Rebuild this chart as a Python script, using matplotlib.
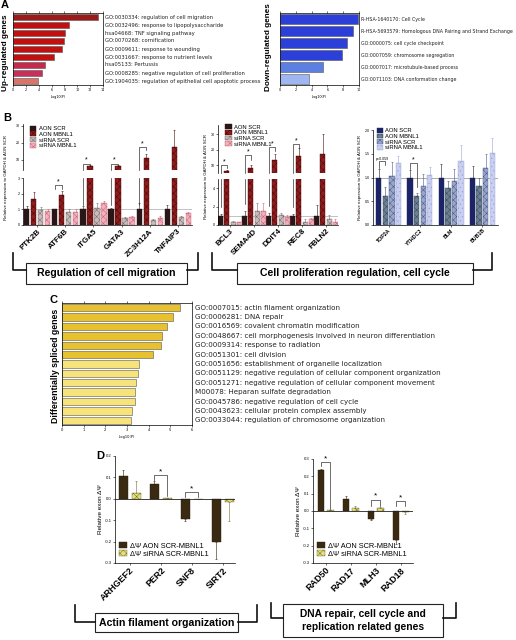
import numpy as np
import matplotlib
matplotlib.use("Agg")
import matplotlib.pyplot as plt
from matplotlib.patches import Rectangle, Patch
import matplotlib.transforms as mtrans

plt.rcParams['font.family'] = ['Liberation Sans', 'DejaVu Sans']
plt.rcParams['hatch.linewidth'] = 0.35
plt.rcParams['axes.linewidth'] = 0.5

# ---------------- data ----------------
up_terms = ["GO:0030334: regulation of cell migration",
            "GO:0032496: response to lipopolysaccharide",
            "hsa04668: TNF signaling pathway",
            "GO:0070268: cornification",
            "GO:0009611: response to wounding",
            "GO:0031667: response to nutrient levels",
            "hsa05133: Pertussis",
            "GO:0008285: negative regulation of cell proliferation",
            "GO:1904035: regulation of epithelial cell apoptotic process"]
up_vals = [13.2, 8.7, 8.1, 8.0, 7.7, 6.4, 5.0, 4.5, 3.9]

down_terms = ["R-HSA-1640170: Cell Cycle",
              "R-HSA-5693579: Homologous DNA Pairing and Strand Exchange",
              "GO:0000075: cell cycle checkpoint",
              "GO:0007059: chromosome segregation",
              "GO:0007017: microtubule-based process",
              "GO:0071103: DNA conformation change"]
down_vals = [9.9, 9.3, 8.5, 7.8, 5.5, 3.7]

spl_terms = ["GO:0007015: actin filament organization",
             "GO:0006281: DNA repair",
             "GO:0016569: covalent chromatin modification",
             "GO:0048667: cell morphogenesis involved in neuron differentiation",
             "GO:0009314: response to radiation",
             "GO:0051301: cell division",
             "GO:0051656: establishment of organelle localization",
             "GO:0051129: negative regulation of cellular component organization",
             "GO:0051271: negative regulation of cellular component movement",
             "M00078: Heparan sulfate degradation",
             "GO:0045786: negative regulation of cell cycle",
             "GO:0043623: cellular protein complex assembly",
             "GO:0033044: regulation of chromosome organization"]
spl_vals = [5.45, 5.1, 4.85, 4.6, 4.55, 4.2, 3.55, 3.5, 3.4, 3.35, 3.35, 3.25, 3.2]

series_names = ["AON SCR", "AON MBNL1", "siRNA SCR", "siRNA MBNL1"]

b1_genes = ["PTK2B", "ATF6B", "ITGA5", "GATA3", "ZC3H12A", "TNFAIP3"]
b1_aon_scr = [1.0, 1.0, 1.0, 1.0, 1.0, 1.0]
b1_aon_scr_err = [0.2, 0.05, 0.2, 0.1, 0.4, 0.25]
b1_aon_mbnl1 = [1.65, 1.93, 6.5, 6.5, 11.0, 17.5]
b1_aon_mbnl1_err = [0.45, 0.27, 0.4, 0.4, 2.4, 10.0]
b1_si_scr = [0.95, 0.8, 1.1, 0.42, 0.32, 0.5]
b1_si_scr_err = [0.2, 0.2, 0.3, 0.08, 0.08, 0.1]
b1_si_mbnl1 = [0.88, 0.85, 1.38, 0.48, 0.42, 0.75]
b1_si_mbnl1_err = [0.12, 0.15, 0.17, 0.07, 0.13, 0.1]

b2_genes = ["BCL3", "SEMA4D", "DDIT4", "REC8", "FBLN2"]
b2_aon_scr = [1.0, 1.0, 1.0, 1.0, 1.0]
b2_aon_scr_err = [0.2, 0.5, 0.3, 0.2, 1.2]
b2_aon_mbnl1 = [6.5, 8.2, 13.4, 16.0, 17.3]
b2_aon_mbnl1_err = [0.5, 1.8, 3.6, 5.0, 12.7]
b2_si_scr = [0.35, 1.5, 1.1, 0.35, 0.65]
b2_si_scr_err = [0.05, 0.9, 0.2, 0.3, 0.4]
b2_si_mbnl1 = [0.3, 1.55, 0.85, 0.65, 0.35]
b2_si_mbnl1_err = [0.05, 0.85, 0.2, 0.15, 0.25]

b3_genes = ["TOP2A", "YTHDC2", "BLM", "BUB1B"]
b3_aon_scr = [1.0, 1.0, 1.0, 1.0]
b3_aon_scr_err = [0.17, 0.15, 0.29, 0.25]
b3_aon_mbnl1 = [0.61, 0.61, 0.77, 0.83]
b3_aon_mbnl1_err = [0.19, 0.07, 0.15, 0.17]
b3_si_scr = [1.04, 0.83, 0.93, 1.19]
b3_si_scr_err = [0.28, 0.25, 0.24, 0.31]
b3_si_mbnl1 = [1.31, 1.06, 1.35, 1.52]
b3_si_mbnl1_err = [0.14, 0.16, 0.33, 0.31]

d_series = ["\u0394\u03a8 AON SCR-MBNL1", "\u0394\u03a8 siRNA SCR-MBNL1"]
d1_genes = ["ARHGEF2", "PER2", "SNF8", "SIRT2"]
d1_aon = [0.105, 0.07, -0.095, -0.2]
d1_aon_err = [0.03, 0.015, 0.01, 0.08]
d1_si = [0.025, 0.005, 0.0, -0.015]
d1_si_err = [0.06, 0.0, 0.0, 0.09]

d2_genes = ["RAD50", "RAD17", "MLH3", "RAD18"]
d2_aon = [0.235, 0.07, -0.045, -0.165]
d2_aon_err = [0.005, 0.015, 0.005, 0.025]
d2_si = [0.003, 0.015, 0.02, -0.005]
d2_si_err = [0.0, 0.015, 0.005, 0.015]

# ---------------- figure ----------------
W, H = 516, 640
fig = plt.figure(figsize=(W / 100, H / 100), dpi=100)


def axpx(x0, y0, x1, y1, **kw):
    return fig.add_axes([x0 / W, 1 - y1 / H, (x1 - x0) / W, (y1 - y0) / H], **kw)


def ftext(x, y, s, **kw):
    fig.text(x / W, 1 - y / H, s, **kw)


DJ = 'DejaVu Sans'


def enrich(ax, vals, terms, colors, xmax, step, fs, tfs):
    y = np.arange(len(vals))
    ax.barh(y, vals, height=0.78, color=colors, edgecolor='#555555', lw=0.4)
    ax.set_ylim(len(vals) - 0.5, -0.5)
    ax.set_xlim(0, xmax)
    ax.set_xticks(np.arange(0, xmax + 0.1, step))
    ax.tick_params(axis='x', labelsize=tfs, length=1.2, width=0.4, pad=1, top=True)
    for lab in ax.get_xticklabels():
        lab.set_family(DJ)
    ax.set_yticks([])
    tr = mtrans.blended_transform_factory(ax.transAxes, ax.transData)
    for i, t in enumerate(terms):
        ax.text(1.025, i, t, transform=tr, fontsize=fs, va='center', family=DJ,
                color='#222222')
    ax.set_xlabel("-log10(P)", fontsize=tfs, family=DJ, labelpad=2)


# Panel A
axA1 = axpx(13, 13, 103, 85)
up_colors = ['#9b1b1b'] + ['#c20f0f'] * 5 + ['#c42a4c', '#c8305a', '#d8746a']
enrich(axA1, up_vals, up_terms, up_colors, 14, 2, 3.8, 2.4)
axA2 = axpx(280, 13, 359, 85)
down_colors = ['#2d3fd9'] * 4 + ['#5b80e2', '#9fb6f2']
enrich(axA2, down_vals, down_terms, down_colors, 10, 2, 3.4, 2.4)
ftext(1, 8, "A", fontsize=8, weight='bold')
ftext(6, 53, "Up-regulated genes", fontsize=5.9, weight='bold', rotation=90,
      ha='center', va='center')
ftext(269, 47, "Down-regulated genes", fontsize=5.9, weight='bold', rotation=90,
      ha='center', va='center')

# Panel C
axC = axpx(62, 303, 192, 425)
spl_colors = ['#e8c22e'] * 6 + ['#f6e37c'] * 7
enrich(axC, spl_vals, spl_terms, spl_colors, 6, 1, 5.1, 2.6)
ftext(49, 303, "C", fontsize=8, weight='bold')
ftext(55, 366, "Differentially spliced genes", fontsize=6.3, weight='bold',
      rotation=90, ha='center', va='center')

# ---------------- Panel B ----------------
red_styles = [dict(color='#2a1517', hatch=None, ec='#2a1517'),
              dict(color='#8e1d1d', hatch='xxxxx', ec='#4a0808'),
              dict(color='#c8bcbc', hatch='xxxxx', ec='#7a6a6a'),
              dict(color='#f2b0bc', hatch='xxxxx', ec='#c86478')]
blue_styles = [dict(color='#1b2466', hatch=None, ec='#1b2466'),
               dict(color='#6c8294', hatch='xxxxx', ec='#3a4a58'),
               dict(color='#9aa6cc', hatch='xxxxx', ec='#4a5a8a'),
               dict(color='#c9cff0', hatch='....', ec='#9aa6d8')]


def grouped(axes, means, errs, styles, off, width):
    n = len(means[0])
    x = np.arange(n)
    for k, (m, e, st) in enumerate(zip(means, errs, styles)):
        for ax in axes:
            ax.bar(x + off[k], m, width, color=st['color'], hatch=st['hatch'],
                   edgecolor=st['ec'], lw=0.3, zorder=2)
            ax.errorbar(x + off[k], m, yerr=[np.zeros(n), e], fmt='none',
                        ecolor=st['ec'] if k else '#2a1517', elinewidth=0.4,
                        capsize=1.0, capthick=0.4, zorder=3)


def style_b(ax, fs=2.6):
    ax.spines['top'].set_visible(False)
    ax.spines['right'].set_visible(False)
    ax.tick_params(axis='y', labelsize=fs, length=1.5, width=0.4, pad=0.8)
    ax.tick_params(axis='x', length=1.5, width=0.4, pad=0.5)


def bracket(ax, x1, x2, y, y1, y2, s, fs=5):
    ax.plot([x1, x1, x2, x2], [y1, y, y, y2], color='#333333', lw=0.5,
            zorder=4, clip_on=False)
    ax.text((x1 + x2) / 2, y, s, ha='center', va='bottom', fontsize=fs,
            zorder=4, clip_on=False)


def broken_pair(top_box, bot_box, tlim, blim, tticks, bticks, ngroups):
    at = axpx(*top_box)
    ab = axpx(*bot_box)
    for a in (at, ab):
        style_b(a)
        a.set_xlim(-0.5, ngroups - 0.5)
    at.set_ylim(*tlim)
    ab.set_ylim(*blim)
    at.set_yticks(tticks)
    ab.set_yticks(bticks)
    at.spines['bottom'].set_visible(False)
    at.set_xticks([])
    return at, ab


def legend4(ax, styles, anchor):
    ax.legend(handles=[Patch(facecolor=s['color'], hatch=s['hatch'],
                             edgecolor=s['ec'], lw=0.3) for s in styles],
              labels=series_names, loc='upper left', bbox_to_anchor=anchor,
              fontsize=4.2, frameon=False, handlelength=1.1, handleheight=0.9,
              labelspacing=0.05, handletextpad=0.4, borderpad=0.1)


# B1
b1t, b1b = broken_pair((23, 124, 192, 170), (23, 178, 192, 225), (4, 31), (0, 3),
                       [10, 20, 30], [0, 1, 2, 3], len(b1_genes))
off1 = np.array([-1.5, -0.5, 0.5, 1.5]) * 0.25
grouped([b1t, b1b], [b1_aon_scr, b1_aon_mbnl1, b1_si_scr, b1_si_mbnl1],
        [b1_aon_scr_err, b1_aon_mbnl1_err, b1_si_scr_err, b1_si_mbnl1_err],
        red_styles, off1, 0.19)
for a in (b1t, b1b):
    a.axhline(1.0, color='#aaaaaa', lw=0.5, zorder=1)
b1b.set_xticks(np.arange(len(b1_genes)))
b1b.set_xticklabels(b1_genes, rotation=45, ha='right', rotation_mode='anchor',
                    fontsize=5.8, weight='bold')
bracket(b1b, off1[0] + 1, off1[1] + 1, 2.55, 2.3, 2.3, "*")
for g in (2, 3):
    bracket(b1t, off1[0] + g, off1[1] + g, 7.6, 4, 7.1, "*")
bracket(b1t, off1[0] + 4, off1[1] + 4, 17.5, 4, 15.8, "*")
for g in (2, 3, 4):
    b1b.plot([off1[0] + g] * 2, [1.3, 3], color='#333333', lw=0.5, zorder=4)
b1b.set_ylabel("Relative expression to GAPDH & AON SCR", fontsize=3.2, labelpad=2)
b1b.yaxis.set_label_coords(-0.09, 1.02)
legend4(b1t, red_styles, (0.02, 1.04))

# B2
b2t, b2b = broken_pair((218, 125, 338, 173), (218, 179, 338, 225), (5, 36), (0, 5),
                       [10, 20, 30], [0, 2, 4], len(b2_genes))
off2 = np.array([-1.5, -0.5, 0.5, 1.5]) * 0.26
grouped([b2t, b2b], [b2_aon_scr, b2_aon_mbnl1, b2_si_scr, b2_si_mbnl1],
        [b2_aon_scr_err, b2_aon_mbnl1_err, b2_si_scr_err, b2_si_mbnl1_err],
        red_styles, off2, 0.2)
for a in (b2t, b2b):
    a.axhline(1.0, color='#aaaaaa', lw=0.5, zorder=1)
b2b.set_xticks(np.arange(len(b2_genes)))
b2b.set_xticklabels(b2_genes, rotation=45, ha='right', rotation_mode='anchor',
                    fontsize=5.8, weight='bold')
for g, yb, yr in [(0, 10.2, 8.2), (1, 16.6, 13.4), (2, 21.8, 19.0), (3, 23.7, 21.0)]:
    bracket(b2t, off2[0] + g, off2[1] + g, yb, 5, yr, "*")
    b2b.plot([off2[0] + g] * 2, [b2_aon_scr[g] + b2_aon_scr_err[g] + 0.8, 5],
             color='#333333', lw=0.5, zorder=4)
b2b.set_ylabel("Relative expression to GAPDH & AON SCR", fontsize=3.2, labelpad=2)
b2b.yaxis.set_label_coords(-0.08, 1.05)
legend4(b2t, red_styles, (0.03, 1.09))

# B3
b3 = axpx(373, 130, 498, 225)
style_b(b3)
b3.set_xlim(-0.5, len(b3_genes) - 0.5)
b3.set_ylim(0, 2.0)
b3.set_yticks([0, 0.5, 1.0, 1.5, 2.0])
b3.set_yticklabels(['0.0', '0.5', '1.0', '1.5', '2.0'])
off3 = np.array([-1.5, -0.5, 0.5, 1.5]) * 0.21
grouped([b3], [b3_aon_scr, b3_aon_mbnl1, b3_si_scr, b3_si_mbnl1],
        [b3_aon_scr_err, b3_aon_mbnl1_err, b3_si_scr_err, b3_si_mbnl1_err],
        blue_styles, off3, 0.17)
b3.axhline(1.0, color='#888888', lw=0.5, zorder=1)
b3.set_xticks(np.arange(len(b3_genes)))
b3.set_xticklabels(b3_genes, rotation=45, ha='right', rotation_mode='anchor',
                   fontsize=3.8, weight='bold')
bracket(b3, off3[0], off3[1], 1.35, 1.2, 1.26, "p=0.059", fs=2.6)
bracket(b3, off3[0] + 1, off3[1] + 1, 1.3, 1.17, 0.8, "*", fs=5)
b3.set_ylabel("Relative expression to GAPDH & AON SCR", fontsize=3.2, labelpad=2)
legend4(b3, blue_styles, (0.0, 1.06))

ftext(3, 121, "B", fontsize=8, weight='bold')

# ---------------- Panel D ----------------
d_styles = [dict(color='#3b2a12', hatch=None, ec='#2a1d0a'),
            dict(color='#e6df7a', hatch='xxxxx', ec='#6e6a30')]


def dpanel(box, genes, aon, aon_e, si, si_e, ylim, yticks, xlim, off, width, legpos):
    ax = axpx(*box)
    ax.spines['top'].set_visible(False)
    ax.spines['right'].set_visible(False)
    ax.set_ylim(*ylim)
    ax.set_xlim(*xlim)
    ax.set_yticks(yticks)
    ax.set_yticklabels([f"{v:.1f}" for v in yticks])
    ax.tick_params(axis='y', labelsize=3.0, length=1.5, width=0.4, pad=0.8)
    ax.tick_params(axis='x', length=1.5, width=0.4, pad=0.5)
    x = np.arange(len(genes))
    for k, (m, e, st) in enumerate(zip([aon, si], [aon_e, si_e], d_styles)):
        m = np.array(m)
        e = np.array(e)
        ax.bar(x + off[k], m, width, color=st['color'], hatch=st['hatch'],
               edgecolor=st['ec'], lw=0.3, zorder=2)
        up = np.where(m >= 0, e, 0)
        dn = np.where(m < 0, e, 0)
        ax.errorbar(x + off[k], m, yerr=[dn, up], fmt='none', ecolor=st['ec'],
                    elinewidth=0.4, capsize=1.0, capthick=0.4, zorder=3)
    ax.axhline(0, color='#222222', lw=0.6, zorder=3)
    ax.set_xticks(x)
    ax.set_xticklabels(genes, rotation=45, ha='right', rotation_mode='anchor',
                       fontsize=6.5, weight='bold')
    ax.set_ylabel("Relative exon \u0394\u03a8", fontsize=4.6, labelpad=1)
    ax.legend(handles=[Patch(facecolor=s['color'], hatch=s['hatch'],
                             edgecolor=s['ec'], lw=0.3) for s in d_styles],
              labels=d_series, loc='lower left', bbox_to_anchor=legpos,
              fontsize=5.3, frameon=False, handlelength=1.0, handleheight=0.9,
              labelspacing=0.05, handletextpad=0.4, borderpad=0.1)
    return ax


dl = dpanel((115, 456, 235, 563), d1_genes, d1_aon, d1_aon_err, d1_si, d1_si_err,
            (-0.3, 0.2), [0.2, 0.1, 0.0, -0.1, -0.2, -0.3], (-0.47, 3.4),
            [-0.21, 0.21], 0.29, (0.0, 0.01))
bracket(dl, -0.21 + 1, 0.21 + 1, 0.11, 0.09, 0.012, "*", fs=6)
bracket(dl, -0.21 + 2, 0.21 + 2, 0.03, 0.01, 0.01, "*", fs=6)

dr = dpanel((313, 459, 413, 563), d2_genes, d2_aon, d2_aon_err, d2_si, d2_si_err,
            (-0.3, 0.3), [0.3, 0.2, 0.1, 0.0, -0.1, -0.2, -0.3], (-0.5, 3.5),
            [-0.19, 0.19], 0.26, (0.0, 0.01))
bracket(dr, -0.19, 0.19, 0.28, 0.26, 0.01, "*", fs=6)
bracket(dr, -0.19 + 2, 0.19 + 2, 0.065, 0.03, 0.03, "*", fs=6)
bracket(dr, -0.19 + 3, 0.19 + 3, 0.055, 0.03, 0.03, "*", fs=6)

ftext(96, 459, "D", fontsize=8, weight='bold')

# ---------------- annotation boxes / brackets ----------------
ov = fig.add_axes([0, 0, 1, 1], zorder=10)
ov.set_xlim(0, W)
ov.set_ylim(H, 0)
ov.axis('off')
ov.patch.set_alpha(0)


def group_box(xl, xr, ytop, yline, bx0, bx1, by0, by1, text, fs):
    ov.plot([xl, xl, bx0], [ytop, yline, yline], color='#111111', lw=1.2)
    ov.plot([xr, xr, bx1], [ytop, yline, yline], color='#111111', lw=1.2)
    ov.add_patch(Rectangle((bx0, by0), bx1 - bx0, by1 - by0, fill=True,
                           facecolor='white', edgecolor='#222222', lw=0.8))
    ov.text((bx0 + bx1) / 2, (by0 + by1) / 2, text, ha='center', va='center',
            fontsize=fs, weight='bold', linespacing=1.3)


group_box(13, 198, 253, 270, 26, 187, 263, 284, "Regulation of cell migration", 7.6)
group_box(212, 492, 253, 270, 237, 473, 263, 284,
          "Cell proliferation regulation, cell cycle", 7.6)
group_box(75, 257, 605, 622, 95, 238, 613, 632, "Actin filament organization", 7.6)
group_box(271, 456, 603, 618, 283, 443, 604, 637,
          "DNA repair, cell cycle and\nreplication related genes", 7.4)

fig.savefig("out.png", dpi=100)
